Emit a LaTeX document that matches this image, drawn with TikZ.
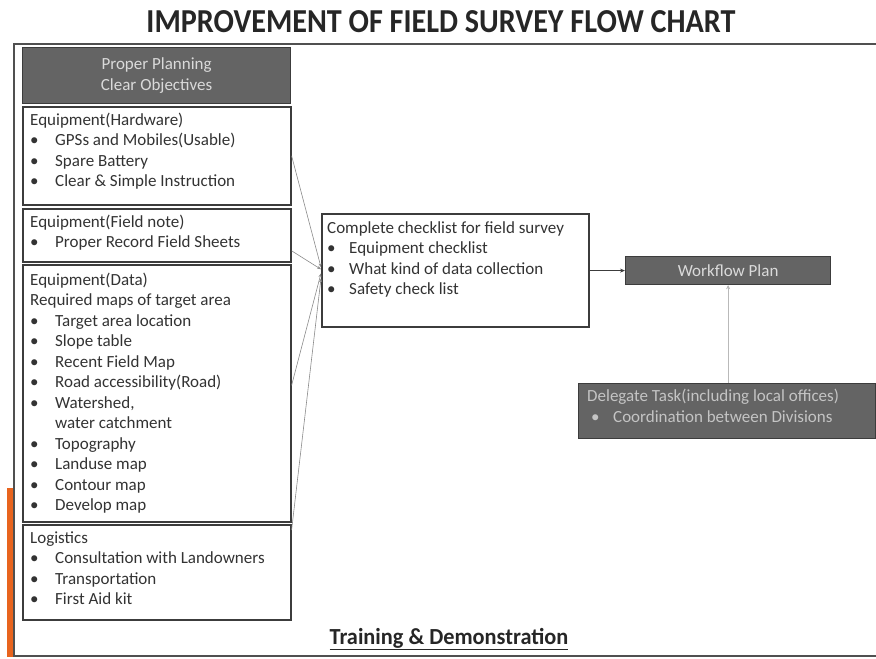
\documentclass[tikz,border=0pt]{standalone}
\usepackage{fontspec}
\setmainfont{Carlito}
\newfontfamily\titlefont{Carlito}[FakeStretch=0.9]
\newfontfamily\trainfont{Carlito}[FakeStretch=0.97]
\usetikzlibrary{arrows.meta,calc}
\definecolor{framec}{HTML}{505050}
\definecolor{boxline}{HTML}{3C3C3C}
\definecolor{textc}{HTML}{333333}
\definecolor{darkfill}{HTML}{646464}
\definecolor{lighttext}{HTML}{DADADA}
\definecolor{orangec}{HTML}{E8641E}
\definecolor{connc}{HTML}{8A8A8A}
\newcommand{\bl}[1]{\makebox[25pt][l]{\textbullet}#1}
\newcommand{\blc}[1]{\makebox[22pt][l]{\textbullet}#1}
\begin{document}
\begin{tikzpicture}[x=1pt,y=-1pt,
  box/.style={draw=boxline, line width=1.6pt, fill=white, inner sep=0pt, anchor=north west},
  darkbox/.style={draw=boxline, line width=1.2pt, fill=darkfill, inner sep=0pt, anchor=north west},
  txt/.style={anchor=north west, inner sep=0pt, align=left, text=textc, font=\fontsize{17}{20.5}\selectfont},
  ltxt/.style={inner sep=0pt, align=center, text=lighttext, font=\fontsize{17}{20.5}\selectfont},
  conn/.style={draw=connc, line width=0.6pt, -{Stealth[length=4pt,width=3pt]}},
  arr/.style={draw=boxline, line width=0.9pt, -{Stealth[length=5pt,width=4pt]}}
]
\useasboundingbox (0,0) rectangle (876,659);
% title
\node[inner sep=0pt, text=black!85, font=\titlefont\bfseries\fontsize{33.5}{38}\selectfont] (title) at (441,22) {IMPROVEMENT OF FIELD SURVEY FLOW CHART};
% frame
\fill[orangec] (7,488) rectangle (14,657);
\draw[framec, line width=1.8pt] (876,44) -- (14,44) -- (14,656) -- (876,656);
% left column boxes
\node[darkbox, minimum width=268, minimum height=56] (plan) at (22,47) {};
\node[ltxt] (plantxt) at (plan.center) {Proper Planning\\Clear Objectives};
\node[box, minimum width=268, minimum height=98] (hw) at (22,106) {};
\node[txt] (hwtxt) at (30,110.6) {\strut Equipment(Hardware)\\\bl{GPSs and Mobiles(Usable)}\\\bl{Spare Battery}\\\bl{Clear \& Simple Instruction}};
\node[box, minimum width=268, minimum height=53] (fn) at (22,208) {};
\node[txt] (fntxt) at (30,212.6) {\strut Equipment(Field note)\\\bl{Proper Record Field Sheets}};
\node[box, minimum width=268, minimum height=257] (data) at (22,264) {};
\node[txt] (datatxt) at (30,270.6) {\strut Equipment(Data)\\Required maps of target area\\\bl{Target area location}\\\bl{Slope table}\\\bl{Recent Field Map}\\\bl{Road accessibility(Road)}\\\bl{Watershed,}\\\hspace*{25pt}water catchment\\\bl{Topography}\\\bl{Landuse map}\\\bl{Contour map}\\\bl{Develop map}};
\node[box, minimum width=268, minimum height=95] (log) at (22,524) {};
\node[txt] (logtxt) at (30,528.6) {\strut Logistics\\\bl{Consultation with Landowners}\\\bl{Transportation}\\\bl{First Aid kit}};
% central checklist
\node[box, minimum width=267, minimum height=113] (chk) at (321,213) {};
\node[txt] (chktxt) at (327,218.6) {\strut Complete checklist for field survey\\\blc{Equipment checklist}\\\blc{What kind of data collection}\\\blc{Safety check list}};
% workflow
\node[darkbox, minimum width=205, minimum height=28] (wf) at (625,256) {};
\node[ltxt] (wftxt) at (wf.center) {Workflow Plan};
\node[darkbox, minimum width=297, minimum height=55] (del) at (578,383) {};
\node[txt, text=lighttext!90!black] (deltxt) at (587,387) {\strut Delegate Task(including local offices)\\\makebox[26pt][l]{\hspace*{4pt}\textbullet}Coordination between Divisions};
% bottom text
\node[inner sep=0pt, text=black!85, font=\trainfont\bfseries\fontsize{23}{26}\selectfont] (train) at (449,639) {\underline{Training \& Demonstration}};
% connectors
\draw[conn] (hw.east) -- ($(chk.west)+(0,-3)$);
\draw[conn] ($(fn.east)+(0,15.5)$) -- ($(chk.west)+(0,-1)$);
\draw[conn] ($(data.east)+(0,-8)$) -- ($(chk.west)+(0,3)$);
\draw[conn] ($(log.north east)+(0,6)$) -- ($(chk.west)+(0,8)$);
\draw[arr] (chk.east |- wf.west) -- (wf.west);
\draw[draw=connc!60, line width=0.8pt, -{Stealth[length=4pt,width=4pt,fill=boxline]}] (del.north -| wf.south) -- (wf.south);
\end{tikzpicture}
\end{document}
